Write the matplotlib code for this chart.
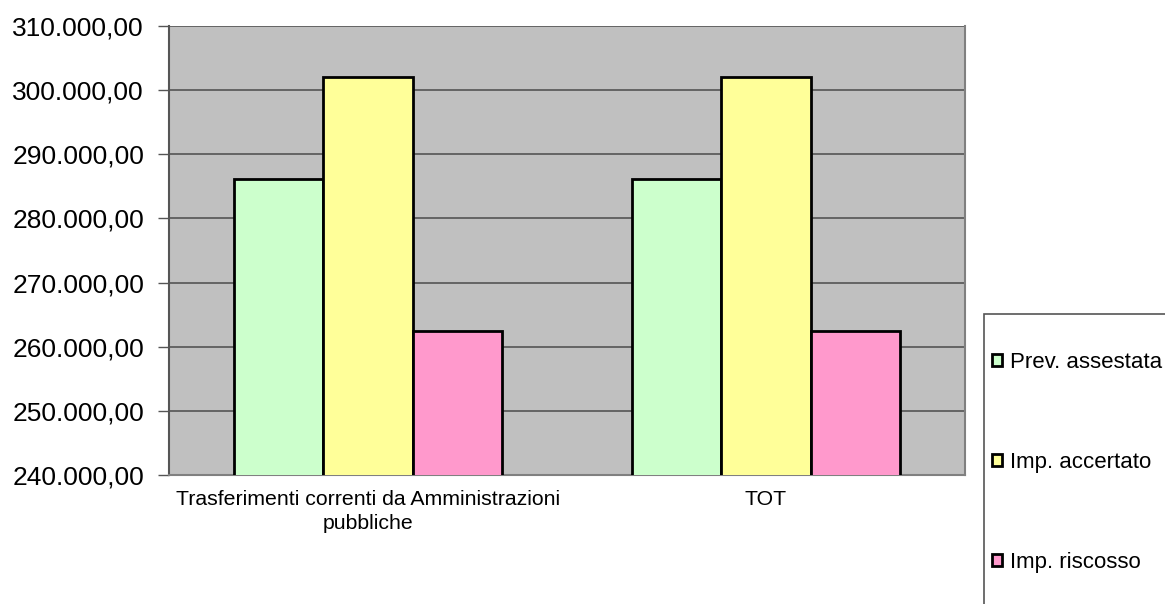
import matplotlib
matplotlib.use("Agg")
import matplotlib.pyplot as plt
import numpy as np
from matplotlib.ticker import FuncFormatter
from matplotlib.patches import Rectangle

categories = ["Trasferimenti correnti da Amministrazioni\npubbliche", "TOT"]
series_names = ["Prev. assestata", "Imp. accertato", "Imp. riscosso"]
prev_assestata = [286100, 286100]
imp_accertato = [302100, 302100]
imp_riscosso = [262400, 262400]
colors = ["#CCFFCC", "#FFFF99", "#FF99CC"]

plt.rcParams['font.family'] = ['Liberation Sans', 'DejaVu Sans']

W, H = 1165, 604
fig = plt.figure(figsize=(W / 100, H / 100), dpi=100)
ax = fig.add_axes([169/W, 1 - 475/H, (965 - 169)/W, (475 - 26)/H])
ax.set_facecolor("#C0C0C0")

x = np.arange(len(categories))
w = 0.224
for i, (vals, name) in enumerate(zip([prev_assestata, imp_accertato, imp_riscosso], series_names)):
    ax.bar(x + (i - 1) * w, vals, w, color=colors[i], edgecolor="black", linewidth=2,
           label=name, zorder=3)

ax.set_xlim(-0.5, 1.5)
ax.set_ylim(240000, 310000)
ax.set_yticks(np.arange(240000, 310001, 10000))
ax.yaxis.set_major_formatter(FuncFormatter(
    lambda v, p: f"{v:,.2f}".replace(",", "X").replace(".", ",").replace("X", ".")))
ax.grid(axis="y", color="#555555", linewidth=1.2, zorder=1)
ax.set_xticks(x)
ax.set_xticklabels(categories, fontsize=15.3, linespacing=1.3)
ax.tick_params(axis="x", length=0, pad=11)
ax.tick_params(axis="y", length=8, width=1, color="#555555", labelsize=19, pad=10)
for s in ["left", "bottom", "right", "top"]:
    ax.spines[s].set_color("#808080")
    ax.spines[s].set_linewidth(1.5)
ax.spines["top"].set_visible(False)
ax.spines["left"].set_color("#555555")

# legend frame runs off the right and bottom edges
fig.patches.append(Rectangle((984/W, -0.1), 0.2, 1 - 314/H + 0.1, transform=fig.transFigure,
                             facecolor="white", edgecolor="#555555", linewidth=1.2, zorder=0))

handles, labels = ax.get_legend_handles_labels()
leg = fig.legend(handles, labels, loc="upper left", bbox_to_anchor=(992/W, 1 - 352/H),
                 fontsize=16, frameon=False,
                 handlelength=0.45, handleheight=0.45, handletextpad=0.35,
                 labelspacing=3.55, borderpad=0, borderaxespad=0)
for h in leg.legend_handles:
    h.set_linewidth(2)

fig.savefig("out.png", dpi=100)
